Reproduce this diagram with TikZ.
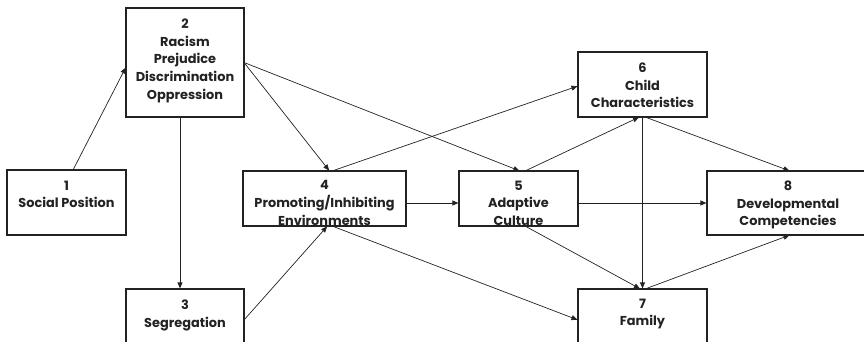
\documentclass[tikz,border=0pt]{standalone}
\usepackage{fontspec}
\setmainfont{Poppins}
\usetikzlibrary{arrows.meta}

\definecolor{ink}{HTML}{222222}

\tikzset{
  box/.style={draw=ink, line width=1.6pt, rectangle, inner sep=0pt, outer sep=0pt},
  lbl/.style={text=ink, align=center, inner sep=0pt, anchor=north,
              font=\fontsize{12.9}{17.7}\selectfont\bfseries},
  link/.style={draw=ink, line width=0.7pt,
               -{Triangle[length=6pt,width=5pt]}, shorten >=0.6pt},
}

\begin{document}
\begin{tikzpicture}[x=1pt, y=-1pt]
  \useasboundingbox (0,0) rectangle (864,342);
  \clip (0,0) rectangle (864,342);

  % boxes (centre, width, height)
  \node[box, minimum width=119pt, minimum height=65pt]  (n1) at (66.5,202.5) {};
  \node[box, minimum width=118pt, minimum height=109pt] (n2) at (185,62.5) {};
  \node[box, minimum width=118pt, minimum height=66pt]  (n3) at (185,322) {};
  \node[box, minimum width=163pt, minimum height=55pt]  (n4) at (324.5,198.5) {};
  \node[box, minimum width=119pt, minimum height=55pt]  (n5) at (518.5,198.5) {};
  \node[box, minimum width=129pt, minimum height=65pt]  (n6) at (642.5,84.5) {};
  \node[box, minimum width=129pt, minimum height=66pt]  (n7) at (642.5,322) {};
  \node[box, minimum width=159pt, minimum height=64pt]  (n8) at (786.5,203) {};

  % labels (top of first line)
  \node[lbl] (t1) at (66.5,180.5)  {1\\Social Position};
  \node[lbl] (t2) at (185,18.5)    {2\\Racism\\Prejudice\\Discrimination\\Oppression};
  \node[lbl] (t3) at (185,299.5)   {3\\Segregation};
  \node[lbl] (t4) at (324.5,180.5) {4\\Promoting/Inhibiting\\Environments};
  \node[lbl] (t5) at (518.5,180.5) {5\\Adaptive\\Culture};
  \node[lbl] (t6) at (642.5,62.5)  {6\\Child\\Characteristics};
  \node[lbl] (t7) at (642.5,298.5) {7\\Family};
  \node[lbl] (t8) at (788,180.5)   {8\\Developmental\\Competencies};

  % connectors
  \draw[link] ([xshift=6.5pt]n1.north) -- ([yshift=-4.5pt]n2.west);
  \draw[link] ([xshift=-5pt]n2.south) -- ([xshift=-5pt]n3.north);
  \draw[link] (n2.east) -- ([xshift=5pt]n4.north);
  \draw[link] (n2.east) -- ([xshift=1.5pt]n5.north);
  \draw[link] ([yshift=2pt]n3.east) -- ([xshift=3pt]n4.south);
  \draw[link] ([xshift=7.5pt]n4.north) -- ([yshift=-1.5pt]n6.west);
  \draw[link] ([yshift=-4.5pt]n4.east) -- ([yshift=-4.5pt]n5.west);
  \draw[link] ([xshift=7.5pt]n4.south) -- ([yshift=2pt]n7.west);
  \draw[link] ([xshift=6.5pt]n5.north) -- ([xshift=-3pt]n6.south);
  \draw[link] ([yshift=-4.5pt]n5.east) -- (n8.west);
  \draw[link] ([xshift=6.5pt]n5.south) -- ([xshift=-2pt]n7.north);
  \draw[link] (n6.south) -- (n7.north);
  \draw[link] ([xshift=2.5pt]n6.south) -- ([xshift=3.5pt]n8.north);
  \draw[link] ([xshift=2.5pt]n7.north) -- ([xshift=3.5pt]n8.south);
\end{tikzpicture}
\end{document}
